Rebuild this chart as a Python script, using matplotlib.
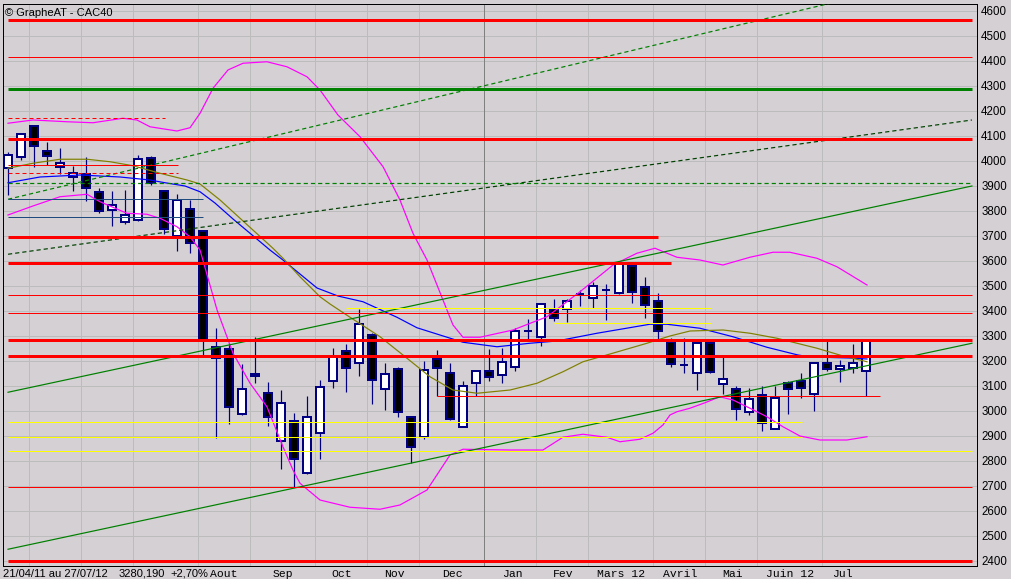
import matplotlib
matplotlib.use('Agg')
import matplotlib.pyplot as plt
import matplotlib.transforms as mtransforms
from matplotlib.patches import Rectangle

# ---------------- data ----------------
opens = [3972, 4015, 4139, 4039, 3975, 3935, 3948, 3875, 3804, 3757,
         3764, 4012, 3880, 3701, 3809, 3719, 3255, 3247, 2988, 3139,
         3071, 2880, 2959, 2753, 2911, 3119, 3239, 3191, 3303, 3087,
         3167, 2977, 2895, 3208, 3151, 2937, 3111, 3159, 3143, 3175,
         3321, 3295, 3409, 3408, 3467, 3451, 3485, 3472, 3579, 3495,
         3439, 3275, 3185, 3153, 3271, 3109, 3089, 2995, 3065, 2927,
         3111, 3119, 3069, 3193, 3167, 3171, 3159]
highs = [4037, 4113, 4141, 4076, 4052, 3981, 4016, 3893, 3880, 3884,
         4025, 4021, 3885, 3868, 3844, 3722, 3333, 3272, 3188, 3295,
         3115, 3084, 2993, 3061, 3124, 3252, 3267, 3409, 3311, 3191,
         3176, 2980, 3200, 3244, 3193, 3120, 3165, 3248, 3252, 3331,
         3367, 3430, 3449, 3449, 3483, 3517, 3507, 3600, 3582, 3535,
         3473, 3293, 3293, 3280, 3275, 3217, 3100, 3091, 3100, 3100,
         3121, 3151, 3195, 3284, 3204, 3268, 3281]
lows = [3864, 4004, 3977, 3985, 3947, 3881, 3841, 3792, 3741, 3750,
        3760, 3905, 3708, 3641, 3631, 3224, 2891, 2947, 2985, 3113,
        2941, 2768, 2697, 2750, 2807, 3091, 3077, 3141, 3027, 3004,
        2977, 2791, 2889, 3060, 2964, 2937, 3061, 3121, 3113, 3161,
        3288, 3261, 3361, 3355, 3421, 3413, 3363, 3467, 3431, 3373,
        3280, 3177, 3153, 3084, 3151, 3068, 2964, 2983, 2919, 2927,
        2989, 3051, 3001, 3160, 3117, 3153, 3061]
closes = [4023, 4107, 4060, 4019, 3991, 3951, 3891, 3801, 3824, 3783,
          4008, 3911, 3727, 3844, 3671, 3280, 3211, 3015, 3087, 3148,
          2975, 3031, 2807, 2977, 3095, 3215, 3171, 3347, 3123, 3147,
          2995, 2855, 3164, 3171, 2969, 3100, 3159, 3135, 3195, 3319,
          3321, 3427, 3371, 3440, 3467, 3499, 3485, 3593, 3476, 3423,
          3319, 3187, 3185, 3271, 3156, 3127, 3007, 3047, 2951, 3051,
          3087, 3091, 3193, 3167, 3179, 3191, 3279]

# moving averages / bollinger bands  (week index, value)
ma_blue_w = [0, 2.46, 5.54, 8.62, 10.92, 12.08, 13.62, 14.77, 15.92, 17.31, 20.15, 21.15,
             23.77, 25.38, 27.31, 29.92, 31.46, 35.0, 37.62, 40.15, 42.23, 45.31, 49.38,
             50.69, 53.23, 55.77, 58.38, 60.77, 61.77, 64.77, 66.08]
ma_blue_v = [3913, 3936, 3944, 3936, 3924, 3913, 3900, 3877, 3832, 3768, 3644, 3604,
             3492, 3460, 3437, 3375, 3333, 3275, 3257, 3271, 3280, 3311, 3347,
             3347, 3331, 3297, 3255, 3224, 3216, 3212, 3208]

ma_olive_w = [0, 1.92, 4.0, 6.08, 7.85, 9.62, 11.69, 13.77, 14.77, 16.31, 18.08, 20.38,
              21.15, 22.46, 24.0, 24.77, 26.31, 28.62, 30.38, 32.46, 34.23, 36.08, 38.62,
              40.69, 42.69, 44.23, 46.31, 49.15, 50.92, 52.46, 55.0, 57.08, 59.15, 62.23,
              64.23, 66.08]
ma_olive_v = [3971, 3991, 4007, 4007, 3997, 3981, 3951, 3924, 3908, 3844, 3760, 3651,
              3611, 3537, 3457, 3428, 3375, 3297, 3224, 3137, 3084, 3071, 3084,
              3111, 3157, 3197, 3228, 3271, 3300, 3320, 3324, 3311, 3291, 3251,
              3220, 3197]

bb_up_w = [0, 1.92, 4.54, 6.54, 8.85, 9.92, 10.92, 13.0, 14.0, 14.77, 15.77, 16.92, 18.08,
           19.92, 21.46, 23.0, 24.0, 25.38, 27.08, 28.85, 30.15, 31.15, 32.23, 33.46,
           34.23, 35.0, 36.31, 38.85, 41.46, 44.0, 46.54, 48.38, 49.77, 51.46, 53.23,
           55.0, 57.08, 58.85, 60.15, 62.23, 63.77, 66.08]
bb_up_v = [4151, 4164, 4157, 4153, 4171, 4164, 4137, 4120, 4133, 4191, 4291, 4364, 4391,
           4397, 4377, 4337, 4284, 4184, 4097, 3977, 3844, 3711, 3604, 3444,
           3344, 3295, 3295, 3324, 3377, 3477, 3584, 3631, 3651, 3615, 3604,
           3584, 3615, 3635, 3635, 3611, 3577, 3504]

bb_lo_w = [0, 1.92, 4.0, 6.08, 7.08, 9.15, 10.69, 11.69, 13.0, 14.0, 14.77, 16.08, 17.31,
           18.62, 19.92, 21.15, 21.92, 22.46, 24.0, 26.31, 28.62, 30.15, 32.23, 34.0,
           35.0, 38.62, 41.15, 42.69, 44.23, 46.08, 47.08, 48.62, 49.62, 50.38, 50.92,
           51.46, 52.46, 53.62, 54.77, 55.77, 57.08, 58.38, 59.62, 60.92, 62.46, 64.54,
           66.08]
bb_lo_v = [3784, 3820, 3857, 3867, 3837, 3791, 3787, 3771, 3737, 3697, 3644, 3404, 3231,
           3111, 3017, 2857, 2764, 2711, 2644, 2615, 2607, 2624, 2684, 2824,
           2847, 2844, 2844, 2895, 2907, 2895, 2877, 2887, 2911, 2944, 2984,
           2997, 3011, 3033, 3057, 3044, 3011, 2977, 2937, 2900, 2884, 2884,
           2897]

# sloped trend lines: start/end week, start/end value
trend_w0 = [0, 0, 0, 0]
trend_w1 = [74.15, 74.15, 74.15, 74.15]
trend_v0 = [2447, 3075, 3627, 3847]
trend_v1 = [3271, 3900, 4164, 4766]
trend_kind = ['green', 'green', 'darkdash', 'greendash']

# horizontal levels
level_v = [4564, 4415, 4288, 4171, 4089, 3983, 3951, 3911, 3847, 3775,
           3697, 3593, 3463, 3391, 3284, 3221, 3060, 2696, 2401,
           3411, 3351, 2955, 2897, 2840]
level_w0 = [0, 0, 0, 0, 0, 0, 0, 0, 0, 0,
            0, 0, 0, 0, 0, 0, 33, 0, 0,
            26, 42, 0, 0, 0]
level_w1 = [74.15, 74.15, 74.15, 12.08, 74.15, 13.08, 13.08, 74.15, 15, 15,
            50, 51, 74.15, 74.15, 74.15, 74.15, 67.08, 74.15, 74.15,
            54.08, 54.08, 61.08, 61.08, 74.15]
level_kind = ['redthick', 'red', 'greenthick', 'reddash', 'redthick', 'red', 'reddash',
              'greendash', 'navy', 'navy', 'redthick', 'redthick', 'red', 'red',
              'redthick', 'redthick', 'red', 'red', 'redthick',
              'yellow', 'yellow', 'yellow', 'yellow', 'yellow']

month_grid = [1.6, 5.6, 9.6, 14.6, 18.6, 23.6, 27.6, 31.6, 40.6, 44.6, 49.6, 53.6, 57.6, 62.6]
year_line = 36.6
month_labels = ['Aout', 'Sep', 'Oct', 'Nov', 'Dec', 'Jan', 'Fev', 'Mars 12', 'Avril',
                'Mai', 'Juin 12', 'Jul']
month_pos = [16.6, 21.15, 25.7, 29.7, 34.15, 38.8, 42.7, 47.15, 51.7, 55.7, 60.15, 64.15]
y_ticks = list(range(2400, 4700, 100))

# ---------------- drawing ----------------
W, H = 1012, 579
PX = 0.72
fig = plt.figure(figsize=(W / 100, H / 100), dpi=100)
bg = '#d4d0d4'
fig.patch.set_facecolor(bg)
ax = fig.add_axes([3 / W, (H - 566) / H, 974 / W, 562 / H])
ax.set_facecolor(bg)
ax.set_xlim(-0.385, 74.54)
ax.set_ylim(2380, 4628)

for s in ax.spines.values():
    s.set_color('black')
    s.set_linewidth(1 * PX)

ax.set_yticks(y_ticks)
ax.set_xticks(month_grid)
ax.set_xticklabels([])
ax.yaxis.tick_right()
ax.tick_params(axis='y', length=0, pad=3, labelsize=8.3, labelcolor='black')
ax.tick_params(axis='x', length=0)
for lab in ax.get_yticklabels():
    lab.set_family('Liberation Sans')
ax.grid(True, color='#bcbcbc', linewidth=1 * PX, snap=True)
ax.set_axisbelow(True)
ax.axvline(year_line, color='#808080', lw=1 * PX, zorder=1, snap=True)

navy = '#000080'
bw = 0.62
for i in range(len(opens)):
    o, h, l, c = opens[i], highs[i], lows[i], closes[i]
    ax.plot([i, i], [l, h], color=navy, lw=1.2 * PX, zorder=3, solid_capstyle='butt',
            snap=True)
    fc = 'white' if c > o else 'black'
    ax.add_patch(Rectangle((i - bw / 2, min(o, c)), bw, abs(c - o), facecolor=fc,
                           edgecolor=navy, lw=2 * PX, zorder=4, antialiased=False))

styles = {
    'redthick': dict(color='#ff0000', lw=3 * PX, ls='-'),
    'red': dict(color='#ff0000', lw=1 * PX, ls='-'),
    'reddash': dict(color='#ff0000', lw=1 * PX, ls=(0, (4, 3))),
    'greenthick': dict(color='#008000', lw=3 * PX, ls='-'),
    'greendash': dict(color='#008000', lw=1.2 * PX, ls=(0, (3.5, 2.5))),
    'navy': dict(color='#1f4a80', lw=1 * PX, ls='-'),
    'yellow': dict(color='#ffff00', lw=1 * PX, ls='-'),
    'green': dict(color='#008000', lw=1.2 * PX, ls='-'),
    'darkdash': dict(color='#004000', lw=1.2 * PX, ls=(0, (3.5, 2.5))),
}

ax.plot(ma_blue_w, ma_blue_v, color='#0000ff', lw=1.2 * PX, zorder=5)
ax.plot(ma_olive_w, ma_olive_v, color='#808000', lw=1.2 * PX, zorder=5)
ax.plot(bb_up_w, bb_up_v, color='#ff00ff', lw=1.2 * PX, zorder=5)
ax.plot(bb_lo_w, bb_lo_v, color='#ff00ff', lw=1.2 * PX, zorder=5)

for w0, w1, v0, v1, k in zip(trend_w0, trend_w1, trend_v0, trend_v1, trend_kind):
    st = styles[k]
    ax.plot([w0, w1], [v0, v1], color=st['color'], lw=st['lw'], ls=st['ls'], zorder=6)

for v, w0, w1, k in zip(level_v, level_w0, level_w1, level_kind):
    st = styles[k]
    ax.plot([w0, w1], [v, v], color=st['color'], lw=st['lw'], ls=st['ls'], zorder=6,
            solid_capstyle='butt', snap=True)

# texts
ax.text(0.002, 1 - 8.5 / 562, '\u00a9 GrapheAT - CAC40', transform=ax.transAxes,
        ha='left', va='center', fontsize=8, family='Liberation Sans', zorder=10)

trans = mtransforms.blended_transform_factory(ax.transData, ax.transAxes)
for lab, p in zip(month_labels, month_pos):
    ax.text(p, -8 / 562, lab, transform=trans, ha='center', va='center',
            fontsize=8.2, family='Liberation Mono', clip_on=False)

yb = (H - 574) / H
fig.text(3 / W, yb, '21/04/11 au 27/07/12', ha='left', va='center', fontsize=8,
         family='Liberation Sans')
fig.text(119 / W, yb, '3280,190', ha='left', va='center', fontsize=8,
         family='Liberation Sans')
fig.text(170 / W, yb, '+2,70%', ha='left', va='center', fontsize=8,
         family='Liberation Sans')

fig.savefig('out.png', dpi=100, facecolor=bg)
